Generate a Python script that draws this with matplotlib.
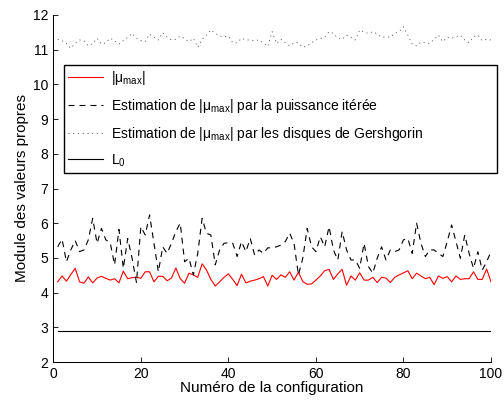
import matplotlib
matplotlib.use("Agg")
import matplotlib.pyplot as plt

plt.rcParams['font.family'] = ['Liberation Sans', 'DejaVu Sans']
plt.rcParams['mathtext.fontset'] = 'custom'
plt.rcParams['mathtext.rm'] = 'Liberation Sans'
plt.rcParams['mathtext.it'] = 'Liberation Sans'
plt.rcParams['lines.scale_dashes'] = False

configs = list(range(1, 101))

mu_max = [4.31, 4.48, 4.33, 4.52, 4.70, 4.31, 4.27, 4.45, 4.28, 4.42,
          4.47, 4.41, 4.36, 4.40, 4.28, 4.62, 4.40, 4.43, 4.44, 4.41,
          4.60, 4.60, 4.31, 4.47, 4.47, 4.34, 4.42, 4.71, 4.40, 4.27,
          4.56, 4.51, 4.44, 4.83, 4.65, 4.38, 4.19, 4.31, 4.44, 4.54,
          4.38, 4.20, 4.53, 4.28, 4.33, 4.36, 4.40, 4.46, 4.19, 4.50,
          4.38, 4.51, 4.44, 4.60, 4.36, 4.59, 4.32, 4.24, 4.25, 4.36,
          4.48, 4.63, 4.67, 4.38, 4.54, 4.67, 4.21, 4.48, 4.36, 4.57,
          4.36, 4.36, 4.44, 4.29, 4.44, 4.42, 4.29, 4.44, 4.51, 4.57,
          4.63, 4.40, 4.56, 4.48, 4.40, 4.44, 4.23, 4.48, 4.41, 4.46,
          4.31, 4.48, 4.38, 4.40, 4.40, 4.60, 4.38, 4.38, 4.68, 4.31]

puissance = [5.32, 5.54, 4.89, 5.23, 5.50, 5.18, 5.23, 5.52, 6.14, 5.42,
             5.85, 5.52, 5.44, 4.80, 5.82, 4.70, 5.56, 4.99, 4.29, 5.90,
             5.66, 6.24, 5.42, 4.60, 5.32, 5.13, 5.42, 5.76, 6.00, 4.89,
             4.99, 4.51, 5.13, 6.14, 5.71, 5.66, 4.80, 5.23, 5.42, 5.44,
             5.42, 5.04, 5.47, 5.18, 5.56, 5.08, 5.23, 5.13, 5.29, 5.29,
             5.32, 5.37, 5.47, 5.71, 5.42, 4.51, 4.99, 5.85, 5.32, 5.18,
             5.61, 5.32, 5.90, 5.23, 4.94, 5.76, 5.23, 4.94, 4.94, 4.70,
             5.42, 4.75, 4.56, 4.99, 5.32, 4.94, 5.23, 5.18, 5.23, 5.52,
             5.56, 5.13, 6.00, 5.42, 5.04, 5.23, 5.23, 5.13, 5.04, 5.47,
             5.95, 5.47, 4.99, 5.66, 5.13, 4.70, 5.18, 4.65, 4.89, 5.18]

gershgorin = [11.30, 11.26, 11.18, 11.04, 11.18, 11.28, 11.26, 11.11, 11.18, 11.33,
              11.16, 11.20, 11.33, 11.26, 11.16, 11.26, 11.36, 11.47, 11.33, 11.26,
              11.23, 11.45, 11.36, 11.28, 11.49, 11.36, 11.28, 11.30, 11.39, 11.32,
              11.23, 11.33, 11.07, 11.30, 11.42, 11.57, 11.47, 11.39, 11.37, 11.39,
              11.20, 11.20, 11.33, 11.28, 11.28, 11.26, 11.28, 11.20, 11.09, 11.52,
              11.18, 11.30, 11.20, 11.11, 11.20, 11.20, 11.07, 11.11, 11.20, 11.28,
              11.32, 11.36, 11.52, 11.47, 11.33, 11.30, 11.42, 11.36, 11.28, 11.57,
              11.51, 11.47, 11.52, 11.45, 11.36, 11.37, 11.36, 11.47, 11.52, 11.66,
              11.42, 11.16, 11.11, 11.22, 11.20, 11.18, 11.30, 11.42, 11.23, 11.36,
              11.33, 11.37, 11.42, 11.28, 11.20, 11.37, 11.42, 11.26, 11.30, 11.28]

L0 = 2.89

labels = [r'$\mathregular{|\mu_{max}|}$',
          r'Estimation de $\mathregular{|\mu_{max}|}$ par la puissance itérée',
          r'Estimation de $\mathregular{|\mu_{max}|}$ par les disques de Gershgorin',
          r'$\mathregular{L_0}$']

fig = plt.figure(figsize=(5.04, 4.0), dpi=100)
ax = fig.add_axes([53.3 / 504, 1 - 362 / 400, (491 - 53.3) / 504, (362 - 15) / 400])

ax.plot(configs, mu_max, color='red', lw=0.8, label=labels[0])
ax.plot(configs, puissance, color='black', lw=0.8, dashes=(4.3, 3.6), label=labels[1])
ax.plot(configs, gershgorin, color='0.3', lw=0.6, dashes=(0.8, 2.6), label=labels[2])
ax.plot([configs[0], configs[-1]], [L0, L0], color='black', lw=0.8, label=labels[3])

ax.set_xlim(0, 100)
ax.set_ylim(2, 12)
ax.set_xticks([0, 20, 40, 60, 80, 100])
ax.set_yticks(range(2, 13))
ax.tick_params(direction='in', length=3.5, width=0.6, labelsize=10, colors='black')
for s in ['top', 'right']:
    ax.spines[s].set_visible(False)
for s in ['left', 'bottom']:
    ax.spines[s].set_linewidth(0.75)

ax.set_xlabel('Numéro de la configuration', fontsize=11, labelpad=0)
ax.set_ylabel('Module des valeurs propres', fontsize=11, labelpad=3)

leg = ax.legend(loc='upper left',
                bbox_to_anchor=((64 - 53.3) / 437.7, (362 - 178) / 347, (497 - 64) / 437.7, (178 - 65) / 347),
                mode='expand', fontsize=10, frameon=True, fancybox=False,
                edgecolor='black', framealpha=1, handlelength=2.5, handletextpad=0.55,
                labelspacing=0.7, borderpad=0.3, borderaxespad=0)
leg.get_frame().set_linewidth(1.0)

fig.savefig('out.png', dpi=100)
